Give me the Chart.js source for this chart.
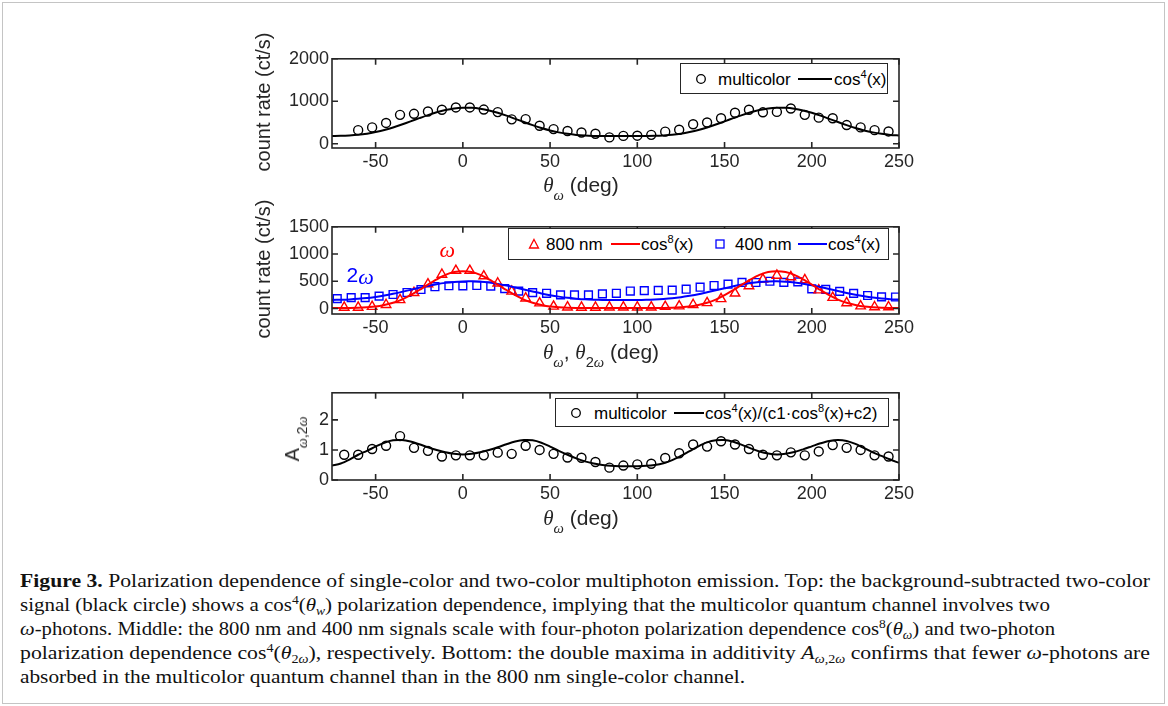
<!DOCTYPE html>
<html>
<head>
<meta charset="utf-8">
<script src="https://cdn.jsdelivr.net/npm/chart.js@4.4.1/dist/chart.umd.min.js"></script>
<style>
  html, body { margin: 0; padding: 0; background: #fff; }
  #page { position: relative; width: 1168px; height: 706px; overflow: hidden; font-family: 'Liberation Sans', Arial, sans-serif; color: #262626; }
  #frame { position: absolute; left: 2px; top: 2px; width: 1163px; height: 702px; border: 1px solid #c4c4c4; box-sizing: border-box; }
  canvas.panel { position: absolute; left: 250px; }
  .ytitle { position: absolute; transform: translate(-50%, -50%) rotate(-90deg); white-space: nowrap; font-size: 20px; line-height: 1; }
  .xtitle { position: absolute; transform: translate(-50%, -50%); white-space: nowrap; font-size: 21px; line-height: 1; }
  .gr { font-family: 'Liberation Serif', serif; font-style: italic; }
  .xtitle sub, .ytitle sub { font-size: 70%; vertical-align: baseline; position: relative; top: 0.55em; }
  .legend { position: absolute; border: 1.5px solid #262626; background: #fff; box-sizing: border-box; font-size: 17px; color: #000; }
  .legend > * { position: absolute; top: 50%; transform: translateY(-50%); white-space: nowrap; line-height: 1; }
  .legend sup { font-size: 65%; vertical-align: baseline; position: relative; top: -0.6em; }
  .legend .ll { height: 0; border-top: 2px solid; }
  .cap { position: absolute; left: 20px; white-space: nowrap; font-family: 'Liberation Serif', serif; font-size: 19px; line-height: 20px; color: #111; transform-origin: 0 0; }
  .cap sup { font-size: 65%; vertical-align: baseline; position: relative; top: -0.55em; }
  .cap sub { font-size: 65%; vertical-align: baseline; position: relative; top: 0.3em; }
</style>
</head>
<body>
<div id="page">
  <div id="frame"></div>

  <canvas id="topChart" class="panel" style="top:45px"></canvas>
  <canvas id="midChart" class="panel" style="top:213px"></canvas>
  <canvas id="botChart" class="panel" style="top:379px"></canvas>

  <div class="ytitle" style="left:263px;top:102px">count rate (ct/s)</div>
  <div class="ytitle" style="left:263px;top:269px">count rate (ct/s)</div>
  <div class="ytitle" style="left:292px;top:439px">A<sub><span class="gr">ω</span>,2<span class="gr">ω</span></sub></div>

  <div class="xtitle" style="left:581px;top:185px"><span class="gr">θ</span><sub><span class="gr">ω</span></sub> (deg)</div>
  <div class="xtitle" style="left:601px;top:352px"><span class="gr">θ</span><sub><span class="gr">ω</span></sub>, <span class="gr">θ</span><sub>2<span class="gr">ω</span></sub> (deg)</div>
  <div class="xtitle" style="left:581px;top:518px"><span class="gr">θ</span><sub><span class="gr">ω</span></sub> (deg)</div>

  <div class="legend" style="left:680px;top:63px;width:208px;height:31px;">
    <svg style="left:14px" width="12" height="12"><circle cx="6" cy="6" r="4.3" fill="none" stroke="#000" stroke-width="1.3"/></svg>
    <span style="left:37px">multicolor</span>
    <span class="ll" style="left:117px;width:34px;border-color:#000"></span>
    <span style="left:153px">cos<sup>4</sup>(x)</span>
  </div>

  <div class="legend" style="left:508px;top:228px;width:381px;height:32px;">
    <svg style="left:19px" width="12" height="12"><polygon points="6,1.5 10.5,10 1.5,10" fill="none" stroke="#f00" stroke-width="1.3"/></svg>
    <span style="left:37px">800 nm</span>
    <span class="ll" style="left:102px;width:29px;border-color:#f00"></span>
    <span style="left:132px">cos<sup>8</sup>(x)</span>
    <svg style="left:205px" width="12" height="12"><rect x="2" y="2" width="8" height="8" fill="none" stroke="#00f" stroke-width="1.3"/></svg>
    <span style="left:226px">400 nm</span>
    <span class="ll" style="left:289px;width:29px;border-color:#00f"></span>
    <span style="left:319px">cos<sup>4</sup>(x)</span>
  </div>

  <div class="legend" style="left:555px;top:398px;width:334px;height:29px;">
    <svg style="left:14px" width="12" height="12"><circle cx="6" cy="6" r="4.3" fill="none" stroke="#000" stroke-width="1.3"/></svg>
    <span style="left:38px">multicolor</span>
    <span class="ll" style="left:118px;width:30px;border-color:#000"></span>
    <span style="left:149px">cos<sup>4</sup>(x)/(c1·cos<sup>8</sup>(x)+c2)</span>
  </div>

  <div class="cap" data-w="1130" style="top:571px"><b>Figure 3.</b> Polarization dependence of single-color and two-color multiphoton emission. Top: the background-subtracted two-color</div>
  <div class="cap" data-w="1030" style="top:595px">signal (black circle) shows a cos<sup>4</sup>(<i>θ</i><sub><i>w</i></sub>) polarization dependence, implying that the multicolor quantum channel involves two</div>
  <div class="cap" data-w="1035" style="top:619px"><i>ω</i>-photons. Middle: the 800 nm and 400 nm signals scale with four-photon polarization dependence cos<sup>8</sup>(<i>θ</i><sub><i>ω</i></sub>) and two-photon</div>
  <div class="cap" data-w="1130" style="top:643px">polarization dependence cos<sup>4</sup>(<i>θ</i><sub>2<i>ω</i></sub>), respectively. Bottom: the double maxima in additivity <i>A</i><sub><i>ω</i>,2<i>ω</i></sub> confirms that fewer <i>ω</i>-photons are</div>
  <div class="cap" data-w="725" style="top:667px">absorbed in the multicolor quantum channel than in the 800 nm single-color channel.</div>
</div>

<script>
// ---- data ----
const xTicks = [-50, 0, 50, 100, 150, 200, 250];
const topYTicks = [0, 1000, 2000];
const midYTicks = [0, 500, 1000, 1500];
const botYTicks = [0, 1, 2];

// fitted curves are sampled every 5 deg
const fitAngles = [-75, -70, -65, -60, -55, -50, -45, -40, -35, -30, -25, -20, -15, -10, -5, 0, 5, 10, 15, 20,
  25, 30, 35, 40, 45, 50, 55, 60, 65, 70, 75, 80, 85, 90, 95, 100, 105, 110, 115, 120,
  125, 130, 135, 140, 145, 150, 155, 160, 165, 170, 175, 180, 185, 190, 195, 200, 205, 210, 215, 220,
  225, 230, 235, 240, 245, 250];

// top: multicolor
const topAngles = [-60, -52, -44, -36, -28, -20, -12, -4, 4, 12, 20, 28, 36, 44, 52, 60, 68, 76, 84, 92,
  100, 108, 116, 124, 132, 140, 148, 156, 164, 172, 180, 188, 196, 204, 212, 220, 228, 236, 244];
const topCounts = [320, 385, 490, 680, 705, 760, 800, 855, 855, 805, 745, 575, 580, 425, 345, 300, 265, 235, 150, 185,
  190, 210, 285, 330, 460, 500, 600, 730, 800, 740, 750, 830, 680, 615, 600, 440, 385, 320, 290];
const topFit = [182, 186, 196, 212, 238, 276, 323, 384, 453, 526, 602, 675, 740, 793, 830, 848, 846, 824, 784, 728,
  661, 587, 511, 439, 372, 314, 268, 233, 208, 193, 185, 181, 180, 180, 180, 180, 182, 186, 196, 212,
  238, 276, 323, 384, 453, 526, 602, 675, 740, 793, 830, 848, 846, 824, 784, 728, 661, 587, 511, 439,
  372, 314, 268, 233, 208, 193];

// middle: 800 nm (red) and 400 nm (blue)
const redAngles = [-68, -60, -52, -44, -36, -28, -20, -12, -4, 4, 12, 20, 28, 36, 44, 52, 60, 68, 76, 84,
  92, 100, 108, 116, 124, 132, 140, 148, 156, 164, 172, 180, 188, 196, 204, 212, 220, 228, 236, 244];
const redCounts = [20, 20, 35, 70, 160, 290, 450, 625, 695, 695, 596, 464, 315, 190, 100, 40, 25, 20, 20, 25,
  25, 25, 25, 35, 45, 70, 105, 178, 280, 415, 535, 607, 580, 525, 338, 200, 103, 45, 28, 28];
const redFit = [10, 10, 11, 14, 22, 36, 65, 105, 165, 245, 340, 440, 535, 618, 670, 685, 670, 618, 535, 440,
  340, 245, 165, 105, 65, 36, 22, 14, 11, 10, 10, 10, 10, 10, 10, 10, 10, 10, 11, 14,
  22, 36, 65, 105, 165, 245, 340, 440, 535, 618, 670, 685, 670, 618, 535, 440, 340, 245, 165, 105,
  65, 36, 22, 14, 11, 10];
const blueAngles = [-72, -64, -56, -48, -40, -32, -24, -16, -8, 0, 8, 16, 24, 32, 40, 48, 56, 64, 72, 80,
  88, 96, 104, 112, 120, 128, 136, 144, 152, 160, 168, 176, 184, 192, 200, 208, 216, 224, 232, 240, 248];
const blueCounts = [183, 200, 200, 229, 258, 295, 350, 401, 418, 415, 424, 412, 366, 320, 292, 280, 252, 250, 250, 270,
  280, 321, 328, 334, 338, 355, 392, 422, 447, 481, 478, 501, 481, 490, 361, 352, 315, 278, 240, 215, 212];
const blueFit = [158, 162, 168, 178, 192, 214, 240, 271, 306, 343, 380, 415, 446, 471, 489, 498, 499, 492, 476, 452,
  422, 387, 350, 314, 278, 246, 219, 197, 182, 170, 163, 159, 156, 155, 155, 157, 161, 167, 176, 189,
  209, 235, 264, 299, 335, 372, 408, 440, 467, 486, 497, 500, 494, 480, 457, 428, 394, 358, 321, 285,
  252, 224, 201, 184, 172, 164];

// bottom: additivity A_{w,2w}
const botAngles = [-68, -60, -52, -44, -36, -28, -20, -12, -4, 4, 12, 20, 28, 36, 44, 52, 60, 68, 76, 84,
  92, 100, 108, 116, 124, 132, 140, 148, 156, 164, 172, 180, 188, 196, 204, 212, 220, 228, 236, 244];
const botValues = [0.84, 0.84, 1.03, 1.14, 1.46, 1.07, 0.97, 0.78, 0.82, 0.82, 0.82, 0.91, 0.87, 1.14, 1.0, 0.87, 0.75, 0.74, 0.6, 0.41,
  0.48, 0.52, 0.54, 0.73, 0.89, 1.18, 1.11, 1.29, 1.18, 1.03, 0.84, 0.82, 0.92, 0.82, 0.95, 1.16, 1.07, 1.0, 0.82, 0.78];
const botFit = [0.48, 0.55, 0.68, 0.84, 0.97, 1.11, 1.24, 1.32, 1.33, 1.28, 1.19, 1.09, 1.0, 0.92, 0.87, 0.85, 0.87, 0.92, 1.0, 1.09,
  1.19, 1.28, 1.33, 1.32, 1.24, 1.11, 0.97, 0.84, 0.72, 0.62, 0.55, 0.5, 0.47, 0.46, 0.46, 0.46, 0.47, 0.5, 0.56, 0.66,
  0.8, 0.96, 1.12, 1.25, 1.32, 1.33, 1.27, 1.17, 1.05, 0.95, 0.88, 0.85, 0.87, 0.93, 1.02, 1.12, 1.22, 1.3, 1.33, 1.3,
  1.2, 1.06, 0.92, 0.8, 0.68, 0.57];

const AXIS = '#262626';
const FONT = "'Liberation Sans', Arial, sans-serif";

const pts = (xs, ys) => xs.map((x, i) => ({ x, y: ys[i] }));

// matlab style box with inward ticks on all four sides
const boxPlugin = {
  id: 'box',
  afterDraw(chart) {
    const { ctx, chartArea: a, scales: { x, y } } = chart;
    const t = 6;
    ctx.save();
    ctx.strokeStyle = AXIS;
    ctx.lineWidth = 1.6;
    ctx.beginPath();
    x.ticks.forEach(tk => {
      const px = x.getPixelForValue(tk.value);
      ctx.moveTo(px, a.bottom); ctx.lineTo(px, a.bottom - t);
      ctx.moveTo(px, a.top); ctx.lineTo(px, a.top + t);
    });
    y.ticks.forEach(tk => {
      const py = y.getPixelForValue(tk.value);
      ctx.moveTo(a.left, py); ctx.lineTo(a.left + t, py);
      ctx.moveTo(a.right, py); ctx.lineTo(a.right - t, py);
    });
    ctx.stroke();
    ctx.strokeRect(a.left, a.top, a.right - a.left, a.bottom - a.top);
    ctx.restore();
  }
};

// the omega / 2omega tags in the middle panel
const tagPlugin = {
  id: 'tags',
  afterDatasetsDraw(chart, args, opts) {
    if (!opts.items) return;
    const { ctx, scales: { x, y } } = chart;
    ctx.save();
    ctx.textBaseline = 'middle';
    opts.items.forEach(it => {
      ctx.fillStyle = it.color;
      ctx.font = it.font;
      ctx.textAlign = it.align || 'center';
      ctx.fillText(it.text, x.getPixelForValue(it.x), y.getPixelForValue(it.y));
    });
    ctx.restore();
  }
};

function makePanel(id, padTop, yMin, yMax, yTicks, datasets, tags) {
  const canvas = document.getElementById(id);
  return new Chart(canvas, {
    type: 'scatter',
    data: { datasets },
    options: {
      responsive: false,
      animation: false,
      devicePixelRatio: 1,
      layout: { padding: { top: padTop, right: 31, bottom: 0, left: 0 } },
      plugins: {
        legend: { display: false },
        tooltip: { enabled: false },
        tags: { items: tags || null }
      },
      scales: {
        x: {
          type: 'linear',
          min: -75,
          max: 250,
          afterBuildTicks: s => { s.ticks = xTicks.map(v => ({ value: v })); },
          afterFit: s => { s.height = 29; },
          grid: { display: false, drawTicks: false },
          border: { display: false },
          ticks: { color: AXIS, font: { family: FONT, size: 18 }, padding: 3, maxRotation: 0, callback: v => String(v) }
        },
        y: {
          min: yMin,
          max: yMax,
          afterBuildTicks: s => { s.ticks = yTicks.map(v => ({ value: v })); },
          afterFit: s => { s.width = 82; },
          grid: { display: false, drawTicks: false },
          border: { display: false },
          ticks: { color: AXIS, font: { family: FONT, size: 18 }, padding: 3, callback: v => String(v) }
        }
      }
    },
    plugins: [boxPlugin, tagPlugin]
  });
}

function sizeCanvas(id, h) {
  const c = document.getElementById(id);
  c.width = 680; c.height = h;
  c.style.width = '680px'; c.style.height = h + 'px';
}

const lineSet = (data, color) => ({
  data, showLine: true, borderColor: color, borderWidth: 2, pointRadius: 0, tension: 0.3, fill: false
});
const markSet = (data, color, style, r) => ({
  data, showLine: false, pointStyle: style, pointRadius: r, borderColor: color,
  backgroundColor: 'rgba(0,0,0,0)', pointBorderWidth: 1.4
});

sizeCanvas('topChart', 132);
makePanel('topChart', 10, -100, 2000, topYTicks, [
  lineSet(pts(fitAngles, topFit), '#000'),
  markSet(pts(topAngles, topCounts), '#000', 'circle', 4.5)
]);

sizeCanvas('midChart', 130);
makePanel('midChart', 10.5, -100, 1500, midYTicks, [
  lineSet(pts(fitAngles, redFit), '#f00'),
  lineSet(pts(fitAngles, blueFit), '#00f'),
  markSet(pts(redAngles, redCounts), '#f00', 'triangle', 5.5),
  markSet(pts(blueAngles, blueCounts), '#00f', 'rect', 5.5)
], [
  { text: 'ω', x: -9, y: 1060, color: '#f00', font: "italic 22px 'Liberation Serif'" },
  { text: '2', x: -60, y: 585, color: '#00f', font: "21px 'Liberation Sans'", align: 'right' },
  { text: 'ω', x: -60, y: 560, color: '#00f', font: "italic 22px 'Liberation Serif'", align: 'left' }
]);

sizeCanvas('botChart', 130);
makePanel('botChart', 10.5, 0, 2.9, botYTicks, [
  lineSet(pts(fitAngles, botFit), '#000'),
  markSet(pts(botAngles, botValues), '#000', 'circle', 4.5)
]);

// squeeze caption lines to the measured line widths
document.querySelectorAll('.cap').forEach(el => {
  const w = el.getBoundingClientRect().width;
  el.style.transform = 'scaleX(' + (+el.dataset.w / w) + ')';
});
</script>
</body>
</html>
